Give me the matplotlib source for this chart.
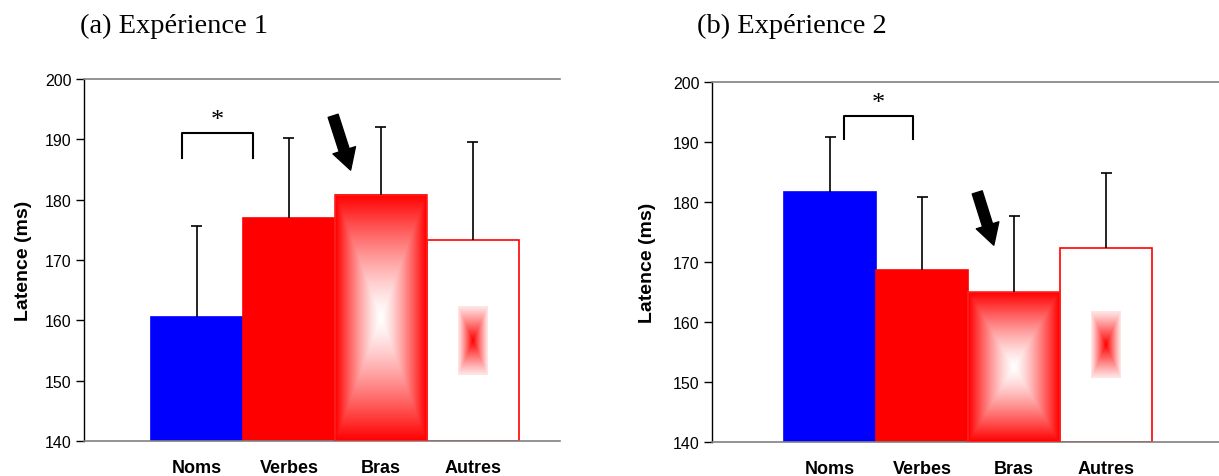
import numpy as np
import matplotlib
matplotlib.use("Agg")
import matplotlib.pyplot as plt

categories = ["Noms", "Verbes", "Bras", "Autres"]
exp1_means = [160.6, 177.0, 180.8, 173.3]
exp1_err = [15.1, 13.3, 11.2, 16.2]
exp2_means = [181.6, 168.6, 165.0, 172.4]
exp2_err = [9.2, 12.2, 12.7, 12.4]
titles = ["(a) Expérience 1", "(b) Expérience 2"]
ymin, ymax = 140, 200

RED = np.array([1.0, 0.0, 0.0])
WHITE = np.array([1.0, 1.0, 1.0])


def rect_gradient(n_x, n_y, edge_red=True, power=1.6, floor=0.0):
    u = np.linspace(-1, 1, n_x)
    v = np.linspace(-1, 1, n_y)
    U, V = np.meshgrid(u, v)
    t = np.maximum(np.abs(U), np.abs(V))
    if edge_red:
        w = t ** power
    else:
        w = floor + (1 - floor) * (1 - t) ** power
    img = WHITE[None, None, :] * (1 - w[..., None]) + RED[None, None, :] * w[..., None]
    return img


fig = plt.figure(figsize=(12.19, 4.77), dpi=100)
panels = [
    dict(rect=[84 / 1219, 35 / 477, (560 - 84) / 1219, 362 / 477], xlim=(-1.228, 3.946),
         means=exp1_means, err=exp1_err,
         bracket=(-0.16, 0.61, 186.9, 191.0), star=(0.225, 191.4),
         arrow=((1.48, 193.9), (1.67, 184.9)),
         title_xy=(80 / 1219, 1 - 26 / 477), ylab_x=-0.109),
    dict(rect=[712 / 1219, 34 / 477, (1219 - 712) / 1219, 360 / 477], xlim=(-1.283, 4.228),
         means=exp2_means, err=exp2_err,
         bracket=(0.15, 0.90, 190.5, 194.3), star=(0.52, 194.7),
         arrow=((1.60, 181.6), (1.78, 172.8)),
         title_xy=(697 / 1219, 1 - 26 / 477), ylab_x=-0.110),
]

for i, p in enumerate(panels):
    ax = fig.add_axes(p["rect"])
    x = np.arange(len(categories))
    means = np.array(p["means"])
    err = np.array(p["err"])
    heights = means - ymin
    facecolors = ["#0000ff", "#ff0000", "none", "white"]
    edgecolors = ["#0000ff", "#ff0000", "#ff2020", "#ff0000"]
    bars = ax.bar(x, heights, bottom=ymin, width=1.0, color=facecolors,
                  edgecolor=edgecolors, linewidth=1.2, zorder=2)
    # gradient for "Bras"
    b = bars[2]
    x0, w = b.get_x(), b.get_width()
    ax.imshow(rect_gradient(60, 200, edge_red=True, power=1.3),
              extent=(x0, x0 + w, ymin, ymin + b.get_height()),
              aspect="auto", interpolation="bilinear", zorder=2.5)
    b.set_zorder(3)
    # small inset patch for "Autres"
    b = bars[3]
    cx = b.get_x() + b.get_width() / 2
    cy = ymin + b.get_height() / 2
    pw = b.get_width() * 0.32
    ph = b.get_height() * 0.34
    ax.imshow(rect_gradient(40, 100, edge_red=False, power=1.1, floor=0.1),
              extent=(cx - pw / 2, cx + pw / 2, cy - ph / 2, cy + ph / 2),
              aspect="auto", interpolation="bilinear", zorder=2.6)
    # error bars (upper only)
    tops = means + err
    ax.vlines(x, means, tops, color="black", linewidth=1.2, zorder=4)
    ax.hlines(tops, x - 0.06, x + 0.06, color="black", linewidth=1.2, zorder=4)

    ax.set_xlim(*p["xlim"])
    ax.set_ylim(ymin, ymax)
    ax.set_yticks(np.arange(140, 201, 10))
    ax.set_xticks(x)
    ax.set_xticklabels(categories, fontsize=13, fontweight="bold",
                       family="Liberation Sans")
    ax.tick_params(axis="x", length=0, pad=13)
    ax.tick_params(axis="y", direction="out", length=6, width=1, pad=3,
                   labelsize=11.5, color="black")
    for lab in ax.get_yticklabels():
        lab.set_family("Liberation Sans")
    ax.set_ylabel("Latence (ms)", fontsize=14, fontweight="bold",
                  family="Liberation Sans")
    ax.yaxis.set_label_coords(p["ylab_x"], 0.5)
    for s in ["top", "bottom"]:
        ax.spines[s].set_color("#808080")
        ax.spines[s].set_linewidth(1.2)
    ax.spines["left"].set_color("black")
    ax.spines["left"].set_linewidth(1)
    ax.spines["right"].set_visible(False)
    ax.patch.set_facecolor("white")

    # bracket + star
    bx0, bx1, by0, by1 = p["bracket"]
    ax.plot([bx0, bx0, bx1, bx1], [by0, by1, by1, by0], color="black",
            linewidth=1.5, zorder=5, clip_on=False)
    ax.text(p["star"][0], p["star"][1], "*", ha="center", va="bottom",
            fontsize=19, family="Liberation Serif", zorder=5)

    # arrow
    (ax0, ay0), (ax1, ay1) = p["arrow"]
    ax.annotate("", xy=(ax1, ay1), xytext=(ax0, ay0),
                arrowprops=dict(arrowstyle="simple,head_length=1.5,head_width=1.7,tail_width=0.75",
                                mutation_scale=10, color="black",
                                shrinkA=0, shrinkB=0), zorder=6)

    fig.text(p["title_xy"][0], p["title_xy"][1], titles[i], fontsize=20.5,
             family="Liberation Serif", ha="left", va="center")

fig.savefig("out.png", dpi=100, facecolor="white")
